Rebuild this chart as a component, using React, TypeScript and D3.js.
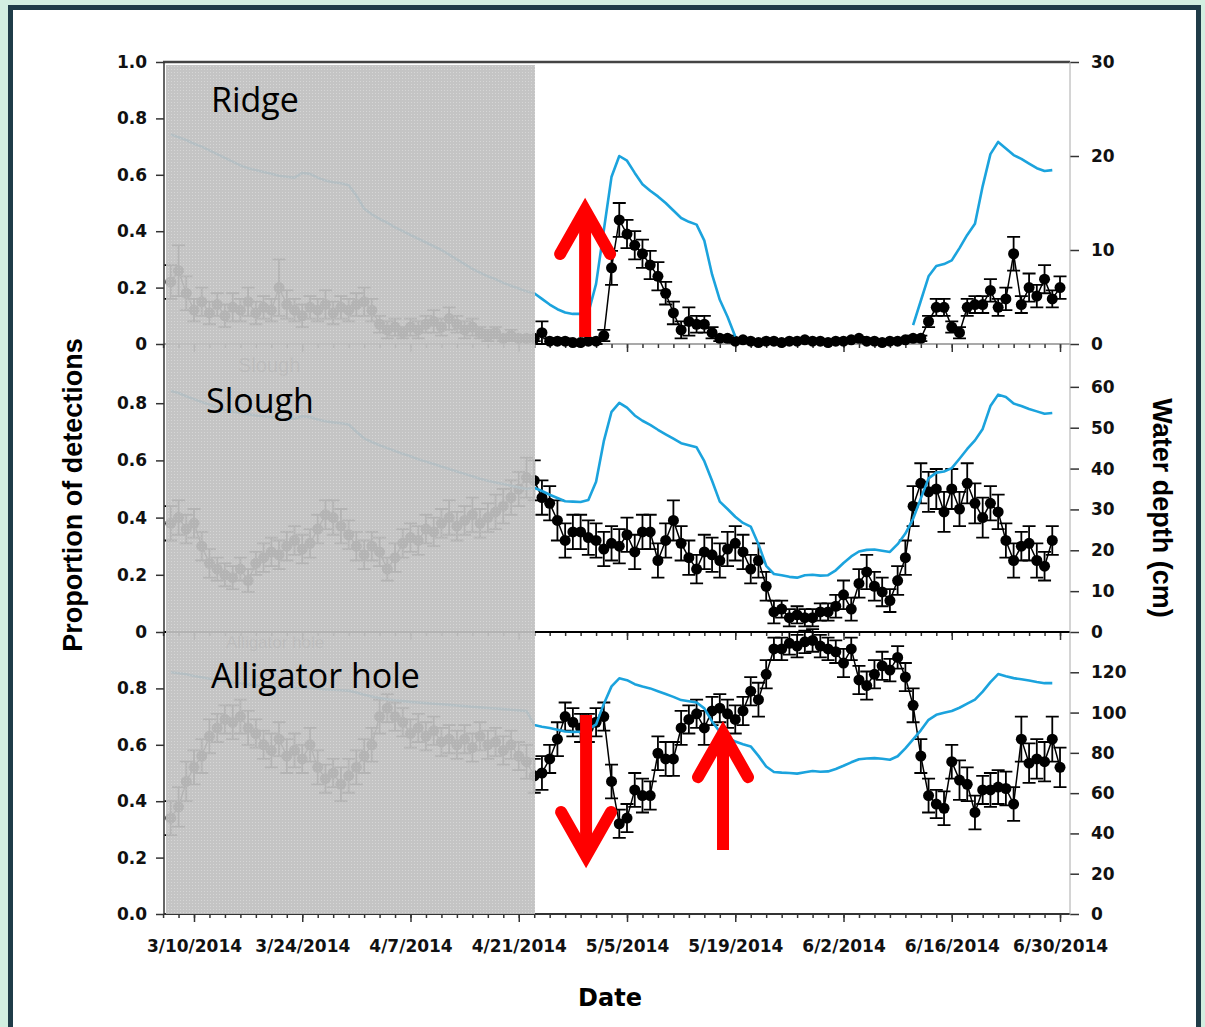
import { useEffect, useRef } from "react";
import * as d3 from "d3";

// Daily observations, first value is 3/7/2014, one value per day through 6/30/2014
const firstDay = new Date(2014, 2, 7);

// Ridge: proportion of detections, its standard error, water depth (cm)
const ridgeProp = [
    0.22, 0.26, 0.18, 0.12, 0.15, 0.11, 0.14, 0.10, 0.13, 0.12,
    0.15, 0.11, 0.13, 0.12, 0.20, 0.14, 0.12, 0.10, 0.13, 0.12,
    0.14, 0.11, 0.13, 0.12, 0.14, 0.15, 0.12, 0.07, 0.05, 0.06,
    0.04, 0.06, 0.05, 0.07, 0.08, 0.06, 0.09, 0.07, 0.05, 0.06,
    0.04, 0.03, 0.04, 0.02, 0.03, 0.02, 0.02, 0.02, 0.04, 0.01,
    0.01, 0.01, 0.005, 0.005, 0.01, 0.01, 0.03, 0.27, 0.44, 0.39,
    0.35, 0.32, 0.28, 0.24, 0.18, 0.11, 0.05, 0.08, 0.07, 0.07,
    0.04, 0.02, 0.02, 0.01, 0.015, 0.01, 0.005, 0.01, 0.01, 0.005,
    0.01, 0.01, 0.015, 0.01, 0.01, 0.005, 0.01, 0.01, 0.015, 0.02,
    0.01, 0.01, 0.005, 0.01, 0.01, 0.015, 0.02, 0.02, 0.08, 0.13,
    0.13, 0.06, 0.04, 0.13, 0.14, 0.14, 0.19, 0.13, 0.16, 0.32,
    0.14, 0.20, 0.17, 0.23, 0.16, 0.20
];
const ridgeSE = [
    0.06, 0.09, 0.06, 0.04, 0.05, 0.04, 0.04, 0.04, 0.05, 0.04,
    0.05, 0.04, 0.04, 0.04, 0.10, 0.05, 0.04, 0.04, 0.04, 0.04,
    0.05, 0.04, 0.04, 0.04, 0.04, 0.05, 0.04, 0.03, 0.03, 0.03,
    0.02, 0.03, 0.03, 0.03, 0.04, 0.03, 0.04, 0.03, 0.03, 0.03,
    0.02, 0.02, 0.02, 0.01, 0.02, 0.01, 0.01, 0.01, 0.04, 0.01,
    0.01, 0.01, 0.005, 0.005, 0.01, 0.01, 0.02, 0.06, 0.06, 0.05,
    0.05, 0.05, 0.05, 0.05, 0.04, 0.04, 0.03, 0.05, 0.03, 0.03,
    0.02, 0.01, 0.01, 0.005, 0.005, 0.005, 0.005, 0.005, 0.005, 0.005,
    0.005, 0.005, 0.005, 0.005, 0.005, 0.005, 0.005, 0.005, 0.005, 0.005,
    0.005, 0.005, 0.005, 0.005, 0.005, 0.005, 0.01, 0.01, 0.02, 0.03,
    0.03, 0.02, 0.02, 0.03, 0.03, 0.03, 0.04, 0.03, 0.04, 0.06,
    0.03, 0.05, 0.04, 0.05, 0.03, 0.04
];
const ridgeDepth = [
    22.3, 22.0, 21.7, 21.3, 21.0, 20.6, 20.2, 19.8, 19.4, 19.0,
    18.7, 18.5, 18.3, 18.1, 17.9, 17.8, 17.7, 18.2, 18.1, 17.7,
    17.4, 17.2, 17.1, 16.9, 15.8, 14.4, 13.8, 13.3, 12.9, 12.4,
    12.0, 11.6, 11.2, 10.8, 10.4, 10.0, 9.5, 9.0, 8.5, 8.0,
    7.6, 7.2, 6.9, 6.5, 6.2, 5.9, 5.6, 5.4, 4.8, 4.2,
    3.7, 3.35, 3.2, 3.2, 3.3, 6.4, 12.1, 17.8, 20.0, 19.5,
    18.2, 17.0, 16.3, 15.7, 15.0, 14.2, 13.4, 13.0, 12.7, 11.0,
    7.4, 4.7, 2.9, 0.8, null, null, null, null, null, null,
    null, null, null, null, null, null, null, null, null, null,
    null, null, null, null, null, null, 2.0, 4.6, 7.2, 8.3,
    8.5, 8.9, 10.2, 11.6, 12.8, 16.8, 20.2, 21.5, 20.8, 20.1,
    19.7, 19.2, 18.7, 18.4, 18.5, null
];

// Slough
const sloughProp = [
    0.38, 0.40, 0.36, 0.38, 0.30, 0.24, 0.22, 0.20, 0.19, 0.22,
    0.18, 0.24, 0.26, 0.28, 0.27, 0.30, 0.32, 0.29, 0.31, 0.36,
    0.41, 0.40, 0.37, 0.34, 0.30, 0.27, 0.30, 0.28, 0.22, 0.26,
    0.31, 0.33, 0.32, 0.36, 0.35, 0.38, 0.40, 0.37, 0.39, 0.41,
    0.38, 0.40, 0.42, 0.44, 0.47, 0.50, 0.54, 0.53, 0.47, 0.45,
    0.39, 0.32, 0.35, 0.35, 0.33, 0.32, 0.29, 0.31, 0.30, 0.34,
    0.28, 0.35, 0.35, 0.25, 0.32, 0.39, 0.31, 0.26, 0.22, 0.28,
    0.27, 0.25, 0.29, 0.31, 0.28, 0.22, 0.25, 0.16, 0.07, 0.08,
    0.05, 0.06, 0.05, 0.05, 0.07, 0.07, 0.09, 0.13, 0.08, 0.17,
    0.21, 0.16, 0.14, 0.11, 0.18, 0.26, 0.44, 0.52, 0.49, 0.50,
    0.42, 0.50, 0.43, 0.52, 0.45, 0.40, 0.45, 0.42, 0.32, 0.25,
    0.30, 0.31, 0.25, 0.23, 0.32, null
];
const sloughSE = [
    0.06, 0.06, 0.05, 0.05, 0.05, 0.05, 0.04, 0.04, 0.04, 0.04,
    0.04, 0.04, 0.05, 0.05, 0.05, 0.05, 0.05, 0.05, 0.05, 0.05,
    0.05, 0.06, 0.06, 0.05, 0.05, 0.05, 0.05, 0.05, 0.04, 0.05,
    0.05, 0.05, 0.05, 0.05, 0.05, 0.05, 0.06, 0.05, 0.05, 0.06,
    0.05, 0.05, 0.06, 0.06, 0.06, 0.06, 0.07, 0.07, 0.06, 0.06,
    0.07, 0.06, 0.06, 0.06, 0.06, 0.06, 0.06, 0.06, 0.06, 0.06,
    0.06, 0.06, 0.06, 0.06, 0.06, 0.07, 0.06, 0.06, 0.05, 0.06,
    0.06, 0.06, 0.06, 0.06, 0.06, 0.05, 0.06, 0.05, 0.04, 0.03,
    0.03, 0.03, 0.03, 0.03, 0.03, 0.03, 0.04, 0.05, 0.04, 0.05,
    0.06, 0.05, 0.05, 0.04, 0.05, 0.06, 0.07, 0.07, 0.07, 0.07,
    0.07, 0.07, 0.06, 0.07, 0.07, 0.07, 0.06, 0.06, 0.06, 0.06,
    0.05, 0.06, 0.06, 0.05, 0.05, 0
];
const sloughDepth = [
    59.0, 58.5, 57.7, 57.0, 56.3, 55.7, 55.0, 54.4, 54.0, 53.6,
    53.3, 53.0, 52.8, 52.6, 52.4, 52.3, 52.2, 52.8, 52.6, 52.0,
    51.6, 51.3, 51.1, 50.8, 49.0, 47.4, 46.5, 45.7, 45.0, 44.3,
    43.6, 43.0, 42.3, 41.7, 41.1, 40.5, 39.9, 39.3, 38.7, 38.1,
    37.5, 37.0, 36.6, 36.2, 35.8, 35.4, 35.0, 35.3, 34.5, 33.6,
    32.8, 32.0, 31.9, 31.8, 32.3, 36.8, 46.7, 53.9, 56.1, 54.9,
    53.0, 51.7, 50.7, 49.5, 48.4, 47.3, 46.2, 45.7, 45.2, 41.8,
    37.0, 31.9, 30.1, 28.2, 26.7, 25.8, 21.5, 16.2, 14.2, 13.9,
    13.5, 13.3, 13.9, 14.0, 13.8, 13.9, 15.1, 16.9, 18.5, 19.7,
    20.1, 20.2, 19.9, 19.6, 21.5, 24.1, 27.7, 32.7, 37.6, 39.0,
    39.3, 40.1, 42.4, 44.8, 46.9, 49.7, 55.3, 58.1, 57.5, 55.9,
    55.3, 54.6, 54.0, 53.4, 53.6, null
];

// Alligator hole
const gatorProp = [
    0.34, 0.38, 0.47, 0.52, 0.56, 0.63, 0.66, 0.69, 0.68, 0.70,
    0.66, 0.64, 0.60, 0.58, 0.62, 0.56, 0.58, 0.55, 0.60, 0.52,
    0.48, 0.50, 0.46, 0.49, 0.52, 0.56, 0.60, 0.70, 0.73, 0.70,
    0.68, 0.64, 0.66, 0.63, 0.65, 0.61, 0.62, 0.60, 0.62, 0.59,
    0.63, 0.60, 0.61, 0.58, 0.60, 0.56, 0.54, 0.49, 0.50, 0.55,
    0.62, 0.70, 0.68, 0.66, 0.66, 0.68, 0.70, 0.47, 0.32, 0.34,
    0.44, 0.42, 0.42, 0.57, 0.55, 0.55, 0.66, 0.69, 0.71, 0.66,
    0.72, 0.73, 0.71, 0.69, 0.72, 0.79, 0.76, 0.85, 0.94, 0.94,
    0.96, 0.95, 0.965, 0.97, 0.95, 0.94, 0.93, 0.89, 0.94, 0.83,
    0.81, 0.85, 0.88, 0.865, 0.91, 0.84, 0.74, 0.56, 0.42, 0.39,
    0.375, 0.54, 0.475, 0.46, 0.36, 0.44, 0.44, 0.45, 0.445, 0.39,
    0.62, 0.535, 0.55, 0.54, 0.62, 0.52
];
const gatorSE = [
    0.06, 0.07, 0.07, 0.06, 0.06, 0.06, 0.05, 0.05, 0.06, 0.06,
    0.06, 0.05, 0.05, 0.06, 0.06, 0.06, 0.06, 0.05, 0.06, 0.06,
    0.05, 0.05, 0.06, 0.06, 0.06, 0.06, 0.06, 0.06, 0.05, 0.05,
    0.05, 0.05, 0.05, 0.05, 0.05, 0.05, 0.05, 0.05, 0.05, 0.05,
    0.05, 0.05, 0.05, 0.05, 0.05, 0.05, 0.06, 0.06, 0.06, 0.05,
    0.06, 0.05, 0.05, 0.05, 0.05, 0.05, 0.05, 0.06, 0.05, 0.05,
    0.06, 0.06, 0.05, 0.06, 0.06, 0.06, 0.06, 0.05, 0.05, 0.06,
    0.05, 0.05, 0.05, 0.05, 0.05, 0.05, 0.06, 0.05, 0.04, 0.04,
    0.04, 0.04, 0.04, 0.04, 0.04, 0.04, 0.04, 0.05, 0.04, 0.05,
    0.05, 0.05, 0.05, 0.04, 0.04, 0.05, 0.06, 0.06, 0.06, 0.05,
    0.06, 0.06, 0.07, 0.06, 0.06, 0.05, 0.06, 0.06, 0.06, 0.06,
    0.08, 0.07, 0.07, 0.07, 0.08, 0.07
];
const gatorDepth = [
    120.0, 119.5, 119.0, 118.2, 117.5, 116.8, 116.2, 115.6, 115.0, 114.4,
    113.9, 113.5, 113.1, 112.8, 112.5, 112.2, 112.0, 112.4, 112.2, 111.8,
    111.5, 111.3, 111.1, 110.9, 110.0, 108.8, 108.0, 107.2, 106.6, 106.1,
    105.7, 105.3, 105.0, 104.7, 104.4, 104.1, 103.8, 103.5, 103.2, 102.9,
    102.6, 102.3, 102.0, 101.7, 101.4, 101.1, 100.8, 93.8, 93.0, 92.3,
    91.5, 90.6, 90.4, 90.5, 91.7, 94.1, 104.3, 113.0, 117.0, 116.1,
    114.1, 112.9, 112.0, 110.6, 109.2, 107.8, 106.2, 105.6, 105.0, 102.1,
    95.6, 90.5, 87.8, 85.6, 84.3, 83.2, 78.5, 73.2, 70.5, 70.2,
    70.0, 69.7, 70.4, 71.0, 70.6, 70.8, 72.0, 73.6, 75.3, 76.8,
    77.2, 77.4, 77.1, 76.6, 78.3, 82.2, 86.7, 91.2, 96.4, 98.9,
    99.9, 100.8, 102.4, 104.4, 106.4, 110.4, 115.1, 119.1, 118.0, 117.1,
    116.5, 115.9, 115.2, 114.6, 114.6, null
];

// Axis ticks and labels
const leftTicks = [[0, 0.2, 0.4, 0.6, 0.8, 1.0], [0, 0.2, 0.4, 0.6, 0.8], [0, 0.2, 0.4, 0.6, 0.8]];
const leftLabels = [["0", "0.2", "0.4", "0.6", "0.8", "1.0"], ["0", "0.2", "0.4", "0.6", "0.8"], ["0.0", "0.2", "0.4", "0.6", "0.8"]];
const depthMax = [30, 70, 140];
const depthTicks = [[0, 10, 20, 30], [0, 10, 20, 30, 40, 50, 60], [0, 20, 40, 60, 80, 100, 120]];
const majorDates = [
    new Date(2014, 2, 10), new Date(2014, 2, 24), new Date(2014, 3, 7), new Date(2014, 3, 21),
    new Date(2014, 4, 5), new Date(2014, 4, 19), new Date(2014, 5, 2), new Date(2014, 5, 16), new Date(2014, 5, 30)
];
const panelNames = ["Ridge", "Slough", "Alligator hole"];

// Red arrows: panel, date, tail and tip (proportion scale)
const arrowPanel = [0, 2, 2];
const arrowDate = [new Date(2014, 3, 29, 14), new Date(2014, 3, 29, 17), new Date(2014, 4, 17, 10)];
const arrowTail = [0.025, 0.706, 0.227];
const arrowTip = [0.518, 0.163, 0.684];

export default function App() {
    const ref = useRef<SVGSVGElement>(null);
    const width = 1205, height = 1027;

    useEffect(() => {
        const svg = d3.select(ref.current);
        svg.selectAll("*").remove();

        // page frame
        svg.append("rect").attr("width", width).attr("height", height).attr("fill", "#d2efe1");
        svg.append("rect").attr("x", 8).attr("y", 5).attr("width", 1193).attr("height", height).attr("fill", "#1f3c48");
        svg.append("rect").attr("x", 13).attr("y", 10).attr("width", 1183).attr("height", height).attr("fill", "#ffffff");

        // halftone-ish fill for the masked period
        const pat = svg.append("defs").append("pattern")
            .attr("id", "shade").attr("width", 3).attr("height", 3)
            .attr("patternUnits", "userSpaceOnUse");
        pat.append("rect").attr("width", 3).attr("height", 3).attr("fill", "#c0c0c0");
        pat.append("rect").attr("width", 1).attr("height", 1).attr("fill", "#d3d3d3");

        const x = d3.scaleTime()
            .domain([new Date(2014, 2, 6, 6), new Date(2014, 6, 1, 7)])
            .range([165, 1070]);
        const minorDates = d3.timeDay.range(new Date(2014, 2, 6), new Date(2014, 6, 1), 2);
        const fmt = d3.timeFormat("%-m/%-d/%Y");

        const panels = [
            {prop: ridgeProp, se: ridgeSE, depth: ridgeDepth, top: 62, bottom: 344, base: "#555", baseW: 1.2},
            {prop: sloughProp, se: sloughSE, depth: sloughDepth, top: 346, bottom: 632, base: "#000", baseW: 2},
            {prop: gatorProp, se: gatorSE, depth: gatorDepth, top: 632, bottom: 914, base: "#333", baseW: 2}
        ];
        const yScales: any[] = [];

        const styleAxis = (a: any) => {
            a.select(".domain").remove();
            a.attr("font-family", "DejaVu Sans").attr("font-weight", "bold").attr("font-size", 17);
            a.selectAll(".tick line").attr("stroke", "#333").attr("stroke-width", 1.5);
            a.selectAll(".tick text").attr("fill", "#111");
        };

        panels.forEach((p, pi) => {
            const yL = d3.scaleLinear().domain([0, 1]).range([p.bottom, p.top]);
            const yR = d3.scaleLinear().domain([0, depthMax[pi]]).range([p.bottom, p.top]);
            yScales.push(yL);
            const days = p.prop.map((_, i) => d3.timeDay.offset(firstDay, i));
            const g = svg.append("g");

            // date axis along the bottom of each panel
            g.append("g").attr("transform", `translate(0,${p.bottom})`)
                .call(d3.axisBottom(x).tickValues(minorDates).tickSize(4).tickFormat(() => ""))
                .call(styleAxis);
            g.append("g").attr("transform", `translate(0,${p.bottom})`)
                .call(d3.axisBottom(x).tickValues(majorDates).tickSize(8).tickPadding(18)
                    .tickFormat(pi === 2 ? (d: any) => fmt(d) : () => ""))
                .call(styleAxis);
            g.append("line").attr("x1", 164).attr("x2", 1070).attr("y1", p.bottom).attr("y2", p.bottom)
                .attr("stroke", p.base).attr("stroke-width", p.baseW);

            // proportion axis
            g.append("g").attr("transform", "translate(164,0)")
                .call(d3.axisLeft(yL).tickValues(leftTicks[pi]).tickSize(8).tickPadding(9)
                    .tickFormat((d: any, k: number) => leftLabels[pi][k]))
                .call(styleAxis);

            // water depth axis
            g.append("g").attr("transform", "translate(1070,0)")
                .call(d3.axisRight(yR).tickValues(depthTicks[pi]).tickSize(9).tickPadding(12).tickFormat(d3.format("d")))
                .call(styleAxis);

            // error bars
            const idx = d3.range(p.prop.length).filter(i => p.prop[i] != null && p.se[i] > 0);
            g.append("g").selectAll("path").data(idx).join("path")
                .attr("d", i => {
                    const xx = x(days[i]);
                    const y1 = yL(p.prop[i] + p.se[i]);
                    const y2 = yL(p.prop[i] - p.se[i]);
                    return `M${xx},${y1}V${y2}M${xx - 6.5},${y1}h13M${xx - 6.5},${y2}h13`;
                })
                .attr("stroke", "#000").attr("stroke-width", 1.8).attr("fill", "none");

            // connecting line and dots
            g.append("path")
                .attr("d", d3.line<any>().defined(v => v != null).x((v, i) => x(days[i])).y(v => yL(v))(p.prop))
                .attr("fill", "none").attr("stroke", "#000").attr("stroke-width", 1.5);
            g.append("g").selectAll("circle").data(idx).join("circle")
                .attr("cx", i => x(days[i])).attr("cy", i => yL(p.prop[i])).attr("r", 5.5).attr("fill", "#000");

            // water depth line
            g.append("path")
                .attr("d", d3.line<any>().defined(v => v != null).x((v, i) => x(days[i])).y(v => yR(v))(p.depth))
                .attr("fill", "none").attr("stroke", "#1ba3dd").attr("stroke-width", 2.6)
                .attr("stroke-linejoin", "round");
        });

        // frame lines
        svg.append("line").attr("x1", 163).attr("x2", 1070).attr("y1", 62).attr("y2", 62)
            .attr("stroke", "#444").attr("stroke-width", 2.5);
        svg.append("line").attr("x1", 164).attr("x2", 164).attr("y1", 62).attr("y2", 915)
            .attr("stroke", "#333").attr("stroke-width", 1.5);
        svg.append("line").attr("x1", 1070).attr("x2", 1070).attr("y1", 62).attr("y2", 915)
            .attr("stroke", "#aaa").attr("stroke-width", 1);

        // faint labels left under the mask
        svg.append("text").attr("x", 238).attr("y", 372).attr("font-family", "Liberation Sans")
            .attr("font-size", 20).attr("fill", "#777").text("Slough");
        svg.append("text").attr("x", 226).attr("y", 648).attr("font-family", "Liberation Sans")
            .attr("font-size", 17).attr("fill", "#777").text("Alligator hole");

        // masked period before 4/23
        svg.append("rect").attr("x", 166).attr("y", 65).attr("width", 369).attr("height", 849)
            .attr("fill", "url(#shade)").attr("opacity", 0.93);

        // panel names
        const labelPos = [[211, 112], [206, 413], [211, 688]];
        panelNames.forEach((n, i) => {
            svg.append("text").attr("x", labelPos[i][0]).attr("y", labelPos[i][1])
                .attr("font-family", "Open Sans").attr("font-size", 34).attr("fill", "#000").text(n);
        });

        // red arrows
        arrowPanel.forEach((pi, k) => {
            const yL = yScales[pi];
            const ax = x(arrowDate[k]);
            const yTail = yL(arrowTail[k]), yTip = yL(arrowTip[k]);
            const dir = yTip < yTail ? -1 : 1;
            const ty = yTip - dir * 12;
            svg.append("line").attr("x1", ax).attr("x2", ax).attr("y1", yTail).attr("y2", ty)
                .attr("stroke", "#ff0000").attr("stroke-width", 12);
            svg.append("path")
                .attr("d", `M${ax - 25},${ty - dir * 44}L${ax},${ty}L${ax + 25},${ty - dir * 44}`)
                .attr("fill", "none").attr("stroke", "#ff0000").attr("stroke-width", 12)
                .attr("stroke-linecap", "round").attr("stroke-linejoin", "miter");
        });

        // axis titles
        svg.append("text").attr("transform", "translate(82,495) rotate(-90)")
            .attr("text-anchor", "middle").attr("font-family", "Liberation Sans").attr("font-weight", "bold")
            .attr("font-size", 27).attr("fill", "#000").text("Proportion of detections");
        svg.append("text").attr("transform", "translate(1153,508) rotate(90)")
            .attr("text-anchor", "middle").attr("font-family", "Liberation Sans").attr("font-weight", "bold")
            .attr("font-size", 27).attr("fill", "#000").text("Water depth (cm)");
        svg.append("text").attr("x", 610).attr("y", 1006).attr("text-anchor", "middle")
            .attr("font-family", "DejaVu Sans").attr("font-weight", "bold").attr("font-size", 24)
            .attr("fill", "#000").text("Date");
    }, []);

    return (
        <svg ref={ref} width={width} height={height} style={{position: "absolute", left: 0, top: 0}} />
    );
}
